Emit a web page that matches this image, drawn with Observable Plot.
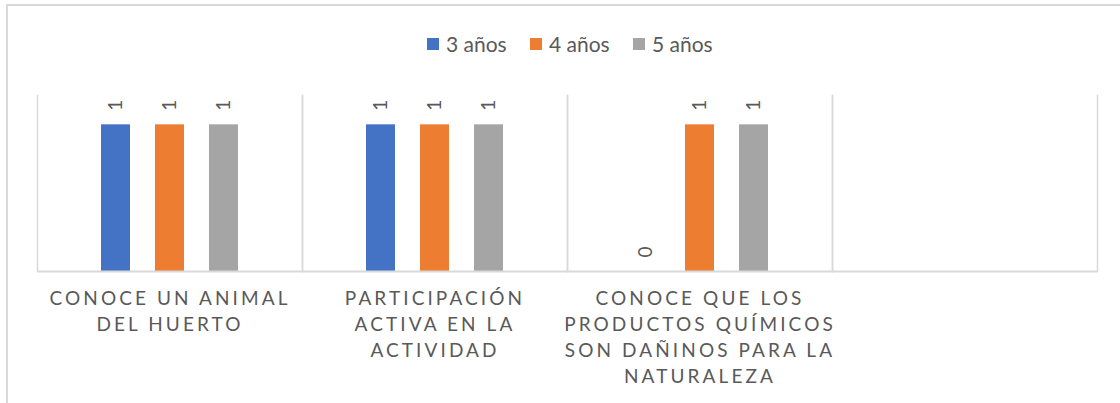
<!DOCTYPE html>
<html><head><meta charset="utf-8">
<script src="https://cdn.jsdelivr.net/npm/d3@7"></script>
<script src="https://cdn.jsdelivr.net/npm/@observablehq/plot@0.6"></script>
<style>
html,body{margin:0;padding:0;background:#fff;width:1120px;height:403px;overflow:hidden;font-family:Lato,"Noto Sans",sans-serif;}
#frame{position:absolute;left:6px;top:4px;width:1200px;height:500px;border-left:2px solid #d9d9d9;border-top:2px solid #d9d9d9;pointer-events:none;}
#legend{height:80px;box-sizing:border-box;padding-top:32px;padding-left:427px;display:flex;align-items:flex-start;}
.item{display:flex;align-items:center;width:103px;color:#595959;font-size:21px;line-height:24px;}
.sw{width:12px;height:12px;margin-right:7px;flex:none;}
#chart svg{display:block;}
g[aria-label="fx-axis tick label"] text{letter-spacing:3.1px;}
</style></head><body>
<div id="frame"></div>
<div id="legend"></div>
<div id="chart"></div>
<script>
const categories = ["CONOCE UN ANIMAL DEL HUERTO", "PARTICIPACIÓN ACTIVA EN LA ACTIVIDAD", "CONOCE QUE LOS PRODUCTOS QUÍMICOS SON DAÑINOS PARA LA NATURALEZA", " "];
const categoryLabels = ["CONOCE UN ANIMAL\nDEL HUERTO", "PARTICIPACIÓN\nACTIVA EN LA\nACTIVIDAD", "CONOCE QUE LOS\nPRODUCTOS QUÍMICOS\nSON DAÑINOS PARA LA\nNATURALEZA", ""];
const series = ["3 años", "4 años", "5 años"];
const colors = ["#4472C4", "#ED7D31", "#A5A5A5"];
const values3 = [1, 1, 0, null];
const values4 = [1, 1, 1, null];
const values5 = [1, 1, 1, null];

const seriesValues = [values3, values4, values5];
const data = [];
seriesValues.forEach((vals, si) => {
  vals.forEach((v, ci) => data.push({category: categories[ci], series: series[si], value: v}));
});
const labelMap = new Map(categories.map((c, i) => [c, categoryLabels[i]]));

// legend
const legend = document.getElementById("legend");
series.forEach((s, i) => {
  const it = document.createElement("div");
  it.className = "item";
  const sw = document.createElement("span");
  sw.className = "sw";
  sw.style.background = colors[i];
  const t = document.createElement("span");
  t.textContent = s;
  it.appendChild(sw); it.appendChild(t);
  legend.appendChild(it);
});

const chart = Plot.plot({
  width: 1120,
  height: 323,
  marginTop: 15,
  marginBottom: 132,
  marginLeft: 37,
  marginRight: 23,
  style: {fontFamily: "Lato, 'Noto Sans', sans-serif", background: "transparent"},
  fx: {domain: categories, padding: 0},
  x: {domain: series, paddingInner: 0.468, paddingOuter: 1.165, axis: null},
  y: {domain: [0, 1.2], axis: null},
  color: {domain: series, range: colors},
  marks: [
    Plot.frame({anchor: "left", stroke: "#d9d9d9", strokeWidth: 1.5}),
    Plot.frame({anchor: "right", stroke: "#d9d9d9", strokeWidth: 1.5}),
    Plot.barY(data, {fx: "category", x: "series", y: "value", fill: "series"}),
    Plot.ruleY([0], {stroke: "#d9d9d9", strokeWidth: 2}),
    Plot.text(data, {fx: "category", x: "series", y: "value", text: d => d.value == null ? null : String(d.value), rotate: -90, textAnchor: "start", dy: -14, fill: "#595959", fontSize: 19}),
    Plot.axisFx({anchor: "bottom", tickSize: 0, tickPadding: 15, fontSize: 19, lineHeight: 1.37, fill: "#595959", label: null, tickFormat: k => labelMap.get(k)})
  ]
});
document.getElementById("chart").appendChild(chart);
</script>
</body></html>
